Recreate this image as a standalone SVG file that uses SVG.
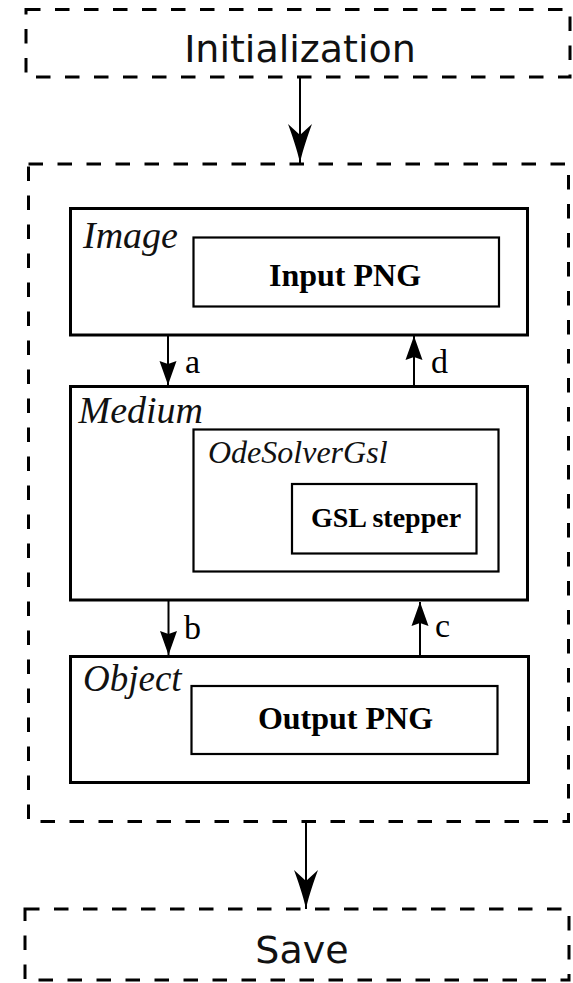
<svg xmlns="http://www.w3.org/2000/svg" width="573" height="983" viewBox="0 0 573 983">
<style>
.dash{fill:none;stroke:#000;stroke-width:3;stroke-dasharray:14.5 14.5}
.outer{fill:#fff;stroke:#000;stroke-width:3}
.inner{fill:#fff;stroke:#000;stroke-width:2.2}
.sans{font-family:"DejaVu Sans",sans-serif;font-size:38px;fill:#111}
.it{font-family:"Liberation Serif","Times New Roman",serif;font-style:italic;fill:#111}
.bd{font-family:"Liberation Serif","Times New Roman",serif;font-weight:bold;fill:#000;text-anchor:middle}
.lbl{font-family:"Liberation Serif","Times New Roman",serif;font-size:34px;fill:#000}
.conn{fill:none;stroke:#000;stroke-width:2}
</style>
<defs>
<marker id="big" viewBox="-41 -13 42 26" refX="0" refY="0" markerWidth="42" markerHeight="26" markerUnits="userSpaceOnUse" orient="auto">
<path d="M0,0 C-14,-3 -28,-8 -39,-12 L-28,0 L-39,12 C-28,8 -14,3 0,0 Z" fill="#000"/>
</marker>
<marker id="small" viewBox="-25 -10 26 20" refX="0" refY="0" markerWidth="26" markerHeight="20" markerUnits="userSpaceOnUse" orient="auto">
<path d="M0,0 L-24,-8.5 L-21,0 L-24,8.5 Z" fill="#000"/>
</marker>
</defs>

<g id="init">
<rect class="dash" x="26" y="9.5" width="544" height="67.5"/>
<text class="sans" x="300" y="62" text-anchor="middle">Initialization</text>
</g>

<g id="loop">
<rect class="dash" x="28.5" y="164" width="540" height="657.5"/>
</g>

<g id="save">
<rect class="dash" x="25" y="909" width="544" height="71"/>
<text class="sans" x="302" y="963" text-anchor="middle">Save</text>
</g>

<g id="image">
<rect class="outer" x="70.5" y="208.5" width="457" height="126.5"/>
<text class="it" x="83" y="248" font-size="38">Image</text>
<g id="input-png">
<rect class="inner" x="193.5" y="237.5" width="305.5" height="69"/>
<text class="bd" x="345" y="286" font-size="32">Input PNG</text>
</g>
</g>

<g id="medium">
<rect class="outer" x="70.5" y="386.5" width="457" height="213.5"/>
<text class="it" x="78.5" y="423" font-size="38">Medium</text>
<g id="odesolver">
<rect class="inner" x="193.5" y="429.5" width="305" height="142"/>
<text class="it" x="208" y="463" font-size="32">OdeSolverGsl</text>
<g id="gsl-stepper">
<rect class="inner" x="292" y="484" width="184.5" height="69.5"/>
<text class="bd" x="386" y="527" font-size="28">GSL stepper</text>
</g>
</g>
</g>

<g id="object">
<rect class="outer" x="70.5" y="656.5" width="458" height="126"/>
<text class="it" x="83" y="691" font-size="37">Object</text>
<g id="output-png">
<rect class="inner" x="191.5" y="686" width="306" height="68"/>
<text class="bd" x="345.5" y="729" font-size="32">Output PNG</text>
</g>
</g>

<g id="connectors">
<path class="conn" d="M300,77 V163" marker-end="url(#big)"/>
<path class="conn" d="M306,822 V909" marker-end="url(#big)"/>
<path class="conn" d="M168,335 V385" marker-end="url(#small)"/>
<path class="conn" d="M414,386 V336" marker-end="url(#small)"/>
<path class="conn" d="M168.5,600 V655" marker-end="url(#small)"/>
<path class="conn" d="M420,656 V602" marker-end="url(#small)"/>
<text class="lbl" x="185" y="373">a</text>
<text class="lbl" x="431" y="373">d</text>
<text class="lbl" x="184" y="639">b</text>
<text class="lbl" x="435" y="637">c</text>
</g>
</svg>
